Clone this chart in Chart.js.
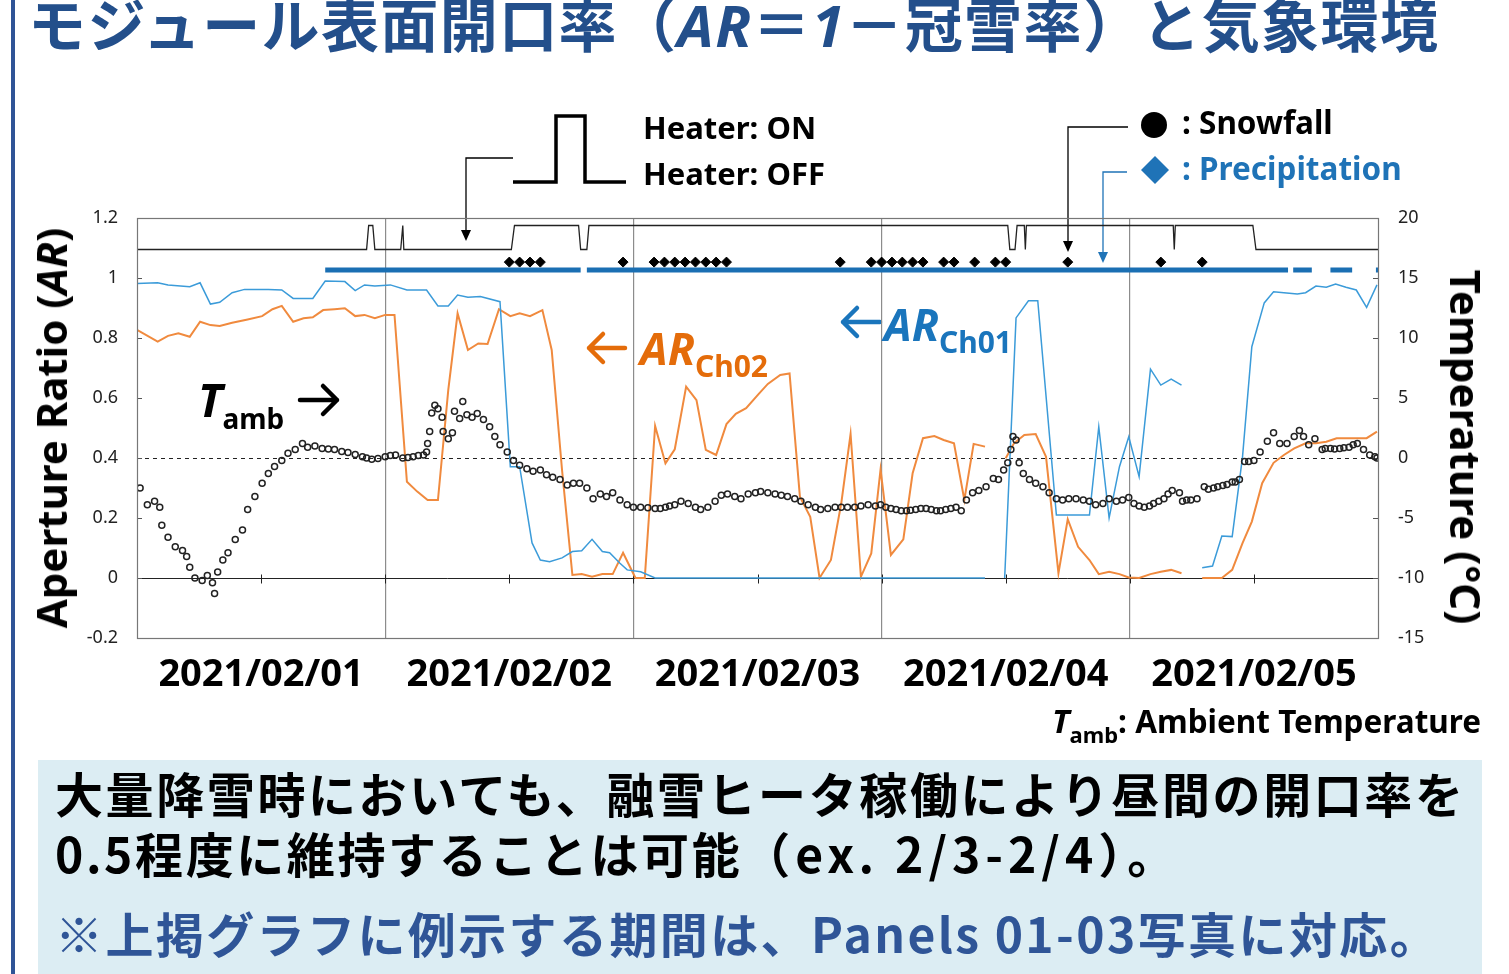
<!DOCTYPE html>
<html lang="ja">
<head>
<meta charset="utf-8">
<title>モジュール表面開口率と気象環境</title>
<script src="https://cdn.jsdelivr.net/npm/chart.js@4.4.1/dist/chart.umd.min.js"></script>
<style>
html,body{margin:0;padding:0;background:#fff;}
body{width:1509px;height:974px;overflow:hidden;position:relative;font-family:"Noto Sans","Noto Sans CJK JP",sans-serif;}
#wrap{position:absolute;left:0;top:0;width:1509px;height:974px;}
#deco{position:absolute;left:0;top:0;pointer-events:none;}
.t{position:absolute;white-space:nowrap;font-weight:700;line-height:1;}
.jp{font-family:"Noto Sans CJK JP",sans-serif;}
</style>
</head>
<body>
<svg id="deco" width="1509" height="974">
  <rect x="38" y="760" width="1444" height="214" fill="#dcedf3"/>
  <rect x="11" y="0" width="4" height="974" fill="#2f5496"/>
  <!-- heater pulse key -->
  <polyline points="513,182 556,182 556,116 585,116 585,182 626,182" fill="none" stroke="#000" stroke-width="3.5"/>
  <polyline points="513,158 466,158 466,232" fill="none" stroke="#000" stroke-width="1.3"/>
  <polygon points="461,230 471,230 466,241" fill="#000"/>
  <!-- snowfall key -->
  <circle cx="1154" cy="125" r="13" fill="#000"/>
  <polyline points="1128,127 1068,127 1068,244" fill="none" stroke="#000" stroke-width="1.3"/>
  <polygon points="1063,241 1073,241 1068,252" fill="#000"/>
  <!-- precipitation key -->
  <polygon points="1155,156 1169,170 1155,184 1141,170" fill="#1f73b7"/>
  <polyline points="1127,172 1103,172 1103,254" fill="none" stroke="#1f73b7" stroke-width="1.3"/>
  <polygon points="1098,252 1108,252 1103,263" fill="#1f73b7"/>
  <!-- label arrows -->
  <g fill="none" stroke-width="4.5" stroke-linecap="round" stroke-linejoin="round">
    <path d="M300 400 H337 M323 386 L337 400 L323 414" stroke="#000"/>
    <path d="M589 348 H625 M603 334 L589 348 L603 362" stroke="#e46c0a"/>
    <path d="M843 322 H880 M857 308 L843 322 L857 336" stroke="#1a75bc"/>
  </g>
</svg>
<div id="wrap"><canvas id="chart"></canvas></div>

<div class="t jp" style="left:28px;top:-7px;font-size:58px;letter-spacing:1.4px;color:#234f8b;">モジュール表面開口率（<i style="font-family:'Noto Sans'">AR</i>＝<i style="font-family:'Noto Sans'">1</i>－冠雪率）と気象環境</div>

<div class="t" style="left:643px;top:112px;font-size:31px;">Heater: ON</div>
<div class="t" style="left:643px;top:158px;font-size:31px;">Heater: OFF</div>
<div class="t" style="left:1182px;top:106px;font-size:31.5px;">: Snowfall</div>
<div class="t" style="left:1182px;top:152px;font-size:31.5px;color:#1f73b7;">: Precipitation</div>

<div class="t" style="left:198px;top:376px;"><i style="font-size:46px;">T</i><span style="font-size:28px;position:relative;top:12px;">amb</span></div>
<div class="t" style="left:640px;top:326px;color:#e46c0a;"><i style="font-size:44px;">AR</i><span style="font-size:30px;position:relative;top:12px;">Ch02</span></div>
<div class="t" style="left:884px;top:302px;color:#1a75bc;"><i style="font-size:44px;">AR</i><span style="font-size:30px;position:relative;top:12px;">Ch01</span></div>

<div class="t" style="left:51px;top:428px;font-size:42px;transform:translate(-50%,-50%) rotate(-90deg);">Aperture Ratio (<i>AR</i>)</div>
<div class="t" style="left:1466px;top:447px;font-size:42px;transform:translate(-50%,-50%) rotate(90deg);">Temperature (°C)</div>

<div class="t" style="left:1052px;top:704px;"><i style="font-size:33px;">T</i><span style="font-size:22px;position:relative;top:10px;">amb</span><span style="font-size:31.5px;">: Ambient Temperature</span></div>

<div class="t jp" style="left:55px;top:768px;font-size:48px;letter-spacing:2.6px;">大量降雪時においても、融雪ヒータ稼働により昼間の開口率を</div>
<div class="t jp" style="left:55px;top:828px;font-size:48px;letter-spacing:2.6px;">0.5程度に維持することは可能<span style="letter-spacing:5px;">（ex. 2/3-2/4）</span>。</div>
<div class="t jp" style="left:55px;top:908px;font-size:48px;color:#2f5597;letter-spacing:2.4px;">※上掲グラフに例示する期間は、Panels 01-03写真に対応。</div>

<script>
// time axis: hours from 2021/02/01 00:00
const dayLabels = ['2021/02/01', '2021/02/02', '2021/02/03', '2021/02/04', '2021/02/05'];

// Aperture ratio, Ch01 (blue)
const ch01Hours = [0,2.0,3.0,5.1,6.1,7.1,8.0,9.2,10.4,12.7,14.0,15.1,17.0,18.2,20.1,21.1,22.0,23.0,24.5,26.1,
  28.0,29.1,30.1,31.0,32.0,33.2,35.1,36.1,37.0,38.2,39.0,39.9,41.1,42.1,43.0,44.0,45.0,45.7,46.7,47.4,
  48.7,50.1,82.0,83.0,83.9,85.0,86.2,87.1,88.9,92.1,93.0,94.0,95.0,95.9,96.9,98.0,99.0,100.0,101.0,102.0,
  103.0,104.0,104.9,105.9,106.9,107.8,109.0,109.9,110.9,112.2,113.0,114.0,115.0,115.9,116.9,117.9,118.9,119.9];
const ch01Values = [0.982,0.984,0.977,0.971,0.984,0.913,0.919,0.951,0.962,0.962,0.960,0.932,0.932,0.990,0.988,0.958,0.977,0.973,0.977,0.960,
  0.960,0.907,0.907,0.943,0.936,0.938,0.921,0.371,0.371,0.117,0.060,0.054,0.067,0.088,0.091,0.129,0.088,0.084,0.049,0.027,
  0.021,0,0,null,0,0.867,0.924,0.924,0.210,0.210,0.504,0.200,0.371,0.471,0.338,0.696,0.643,0.663,0.643,null,
  0.034,0.040,0.140,0.138,0.404,0.771,0.917,0.954,0.951,0.947,0.951,0.973,0.969,0.980,0.969,0.960,0.902,0.977];

// Aperture ratio, Ch02 (orange)
const ch02Hours = [0,2.0,3.0,4.0,5.1,6.1,7.1,8.0,9.2,10.7,12.1,13.1,14.0,15.1,16.1,17.0,18.0,19.1,20.1,21.1,
  22.0,23.0,24.0,24.9,26.1,27.1,28.1,29.1,30.1,31.0,32.0,33.0,33.9,35.0,36.1,37.0,38.0,39.2,40.1,41.1,
  42.1,43.0,44.0,45.0,46.0,47.0,48.2,49.1,50.1,51.1,52.0,53.1,54.1,55.0,56.0,57.0,57.9,58.9,60.1,61.0,
  62.2,63.1,64.1,65.1,66.0,67.1,68.1,69.0,70.0,71.0,71.9,72.9,74.1,75.0,76.0,77.1,78.0,79.0,80.0,80.9,
  82.0,83.0,84.0,84.8,85.8,86.9,87.9,89.1,90.0,91.0,92.1,93.0,94.0,95.0,95.9,96.9,98.0,99.0,100.0,101.0,
  102.0,103.0,104.9,105.9,106.9,107.8,108.8,109.9,110.9,111.9,113.0,114.0,115.0,116.0,117.0,118.0,118.9,119.9];
const ch02Values = [0.827,0.788,0.807,0.816,0.804,0.854,0.843,0.840,0.851,0.862,0.873,0.896,0.907,0.854,0.866,0.869,0.893,0.896,0.899,0.873,
  0.877,0.866,0.877,0.877,0.321,0.288,0.260,0.260,0.627,0.882,0.760,0.782,0.780,0.896,0.873,0.882,0.873,0.893,0.760,0.360,
  0.010,0.013,0.004,0.013,0.013,0.084,0,0,0.507,0.382,0.429,0.638,0.593,0.427,0.410,0.513,0.547,0.566,0.613,0.647,
  0.677,0.682,0.271,0.204,0,0.060,0.249,0.480,0.004,0.082,0.362,0.077,0.129,0.349,0.466,0.473,0.460,0.449,0.260,0.447,
  0.438,null,0.399,0.449,0.477,0.480,0.404,0.016,0.196,0.104,0.060,0.013,0.021,0.013,0.002,0,0.013,0.021,0.027,0.016,
  null,0,0,0.027,0.116,0.188,0.316,0.384,0.410,0.432,0.449,0.449,0.454,0.466,0.466,0.466,0.466,0.488];

// ambient temperature (degC, right axis)
const tempHours = [0.3,1.0,1.7,2.2,2.4,3.0,3.7,4.4,4.8,5.1,5.6,6.3,6.8,7.3,7.5,7.8,8.3,8.8,9.5,10.2,
  10.7,11.4,12.1,12.7,13.3,14.0,14.6,15.3,16.0,16.5,17.2,17.9,18.5,19.1,19.8,20.4,21.1,21.8,22.2,22.7,
  23.3,24.0,24.5,25.0,25.7,26.2,26.7,27.2,27.7,28.0,28.1,28.3,28.5,28.8,29.1,29.5,29.6,30.1,30.5,30.7,
  31.2,31.5,31.9,32.4,32.9,33.5,34.1,34.6,35.1,35.8,36.4,37.0,37.7,38.3,39.0,39.6,40.2,40.9,41.6,42.2,
  42.8,43.5,44.1,44.8,45.4,46.0,46.7,47.4,48.0,48.7,49.4,50.1,50.6,51.1,51.5,52.0,52.6,53.3,54.0,54.5,
  55.2,55.9,56.5,57.1,57.8,58.4,59.1,59.8,60.3,61.0,61.7,62.3,62.9,63.6,64.2,64.9,65.6,66.1,66.8,67.5,
  68.1,68.7,69.4,70.0,70.7,71.4,71.9,72.4,72.9,73.4,73.9,74.4,74.8,75.3,75.8,76.3,76.8,77.3,77.7,78.2,
  78.7,79.2,79.7,80.2,80.8,81.4,82.1,82.8,83.3,83.8,84.2,84.5,84.7,85.0,85.3,85.7,86.3,86.9,87.6,88.2,
  88.9,89.5,90.1,90.8,91.5,92.1,92.7,93.4,94.0,94.7,95.3,95.9,96.4,96.9,97.4,97.9,98.3,98.8,99.3,99.7,
  100.1,100.8,101.1,101.5,101.9,102.5,103.2,103.6,104.1,104.5,105.0,105.4,105.9,106.2,106.6,107.1,107.5,108.0,108.6,109.3,
  109.9,110.5,111.2,111.9,112.4,112.8,113.3,113.9,114.6,114.9,115.4,115.8,116.3,116.7,117.2,117.6,118.0,118.6,119.2,119.7,119.9];
const tempValues = [-2.5,-3.9,-3.6,-4.1,-5.6,-6.6,-7.4,-7.7,-8.2,-9.1,-10.0,-10.2,-9.8,-10.4,-11.3,-9.5,-8.5,-7.9,-6.8,-6.0,
  -4.3,-3.2,-2.1,-1.3,-0.7,-0.2,0.4,0.7,1.2,0.9,1.0,0.8,0.75,0.7,0.55,0.45,0.3,0.1,0.0,-0.1,
  -0.05,0.1,0.2,0.25,0.0,0.05,0.1,0.2,0.25,0.5,1.2,2.2,3.75,4.4,4.1,3.4,2.2,1.6,2.1,3.9,
  3.3,4.7,3.6,3.4,3.7,3.2,2.6,1.8,1.1,0.5,-0.2,-0.6,-0.9,-1.1,-1.0,-1.4,-1.6,-1.8,-2.25,-2.1,
  -2.1,-2.5,-3.4,-3.0,-3.2,-2.9,-3.5,-3.9,-4.1,-4.1,-4.15,-4.2,-4.2,-4.1,-4.0,-3.9,-3.6,-3.8,-4.1,-4.3,
  -4.1,-3.6,-3.1,-3.0,-3.2,-3.4,-3.0,-2.9,-2.8,-2.9,-3.0,-3.1,-3.2,-3.4,-3.6,-3.9,-4.1,-4.3,-4.2,-4.1,
  -4.1,-4.1,-4.1,-4.0,-3.9,-4.0,-3.9,-4.1,-4.2,-4.3,-4.4,-4.4,-4.35,-4.3,-4.2,-4.2,-4.3,-4.4,-4.4,-4.3,
  -4.2,-4.1,-4.4,-3.5,-2.9,-2.7,-2.4,-1.7,-1.8,-1.0,-0.4,0.7,1.8,1.5,-0.4,-1.3,-1.8,-2.1,-2.4,-2.9,
  -3.4,-3.5,-3.4,-3.4,-3.5,-3.6,-3.9,-3.8,-3.4,-3.6,-3.5,-3.3,-3.8,-4.0,-4.1,-4.0,-3.8,-3.6,-3.4,-3.0,
  -2.7,-2.9,-3.6,-3.5,-3.5,-3.4,-2.4,-2.6,-2.5,-2.4,-2.3,-2.2,-2.0,-2.0,-1.8,-0.3,-0.3,-0.2,0.5,1.4,
  2.1,1.2,1.2,1.8,2.3,1.8,1.1,1.6,0.7,0.8,0.8,0.75,0.8,0.85,0.9,1.1,1.2,0.7,0.25,0.1,0.0];

// heater on/off switching times
const heaterHours = [0,22.2,22.4,22.8,23.0,25.5,25.7,25.8,36.2,36.5,42.7,42.9,43.5,43.7,84.2,84.4,84.9,85.1,85.8,85.9,86.0,100.2,100.3,100.4,107.9,108.2,120];
const heaterState = [0,0,1,1,0,0,1,0,0,1,1,0,0,1,1,0,0,1,1,0,1,1,0,1,1,0,0];

// hours with snowfall recorded
const snowHours = [36,37,38,39,47,50,51,52,53,54,55,56,57,68,71,72,73,74,75,76,78,79,81,83,84,90,99,103];

// precipitation periods (start / end hour)
const precipStart = [18.2, 43.5, 111.8, 115.4, 119.8];
const precipEnd = [42.9, 111.3, 113.6, 117.5, 120];

// drawing levels of the status rows on the AR axis
const heaterOn = 1.175, heaterOff = 1.095, snowRow = 1.053, precipRow = 1.027;

function pts(hours, vals) {
  return hours.map((h, i) => ({x: h, y: vals[i]}));
}

const precipData = [];
precipStart.forEach((s, i) => {
  precipData.push({x: s, y: precipRow}, {x: precipEnd[i], y: precipRow}, {x: precipEnd[i], y: null});
});

const frame = {
  id: 'frame',
  beforeDatasetsDraw(chart) {
    const {ctx, chartArea: a, scales} = chart;
    const y = scales.y, y1 = scales.y1, x = scales.x;
    ctx.save();
    ctx.strokeStyle = '#222';
    ctx.lineWidth = 1;
    // T = 0 reference, dashed
    const yd = Math.round(y1.getPixelForValue(0)) + 0.5;
    ctx.setLineDash([4, 4]);
    ctx.beginPath(); ctx.moveTo(a.left, yd); ctx.lineTo(a.right, yd); ctx.stroke();
    ctx.setLineDash([]);
    // AR = 0 axis line with 12 h ticks
    const y0 = Math.round(y.getPixelForValue(0)) + 0.5;
    ctx.beginPath(); ctx.moveTo(a.left, y0); ctx.lineTo(a.right, y0); ctx.stroke();
    for (let h = 12; h < 120; h += 12) {
      const px = Math.round(x.getPixelForValue(h)) + 0.5;
      ctx.beginPath(); ctx.moveTo(px, y0 - 4); ctx.lineTo(px, y0 + 5); ctx.stroke();
    }
    // small inner ticks on both value axes
    ctx.strokeStyle = '#555';
    y.ticks.forEach(t => {
      const py = Math.round(y.getPixelForValue(t.value)) + 0.5;
      ctx.beginPath(); ctx.moveTo(a.left, py); ctx.lineTo(a.left + 5, py); ctx.stroke();
    });
    y1.ticks.forEach(t => {
      const py = Math.round(y1.getPixelForValue(t.value)) + 0.5;
      ctx.beginPath(); ctx.moveTo(a.right - 5, py); ctx.lineTo(a.right, py); ctx.stroke();
    });
    ctx.restore();
  },
  afterDraw(chart) {
    const {ctx, chartArea: a} = chart;
    ctx.save();
    ctx.strokeStyle = '#777';
    ctx.lineWidth = 1.2;
    ctx.strokeRect(Math.round(a.left) + 0.5, Math.round(a.top) + 0.5, Math.round(a.right - a.left), Math.round(a.bottom - a.top));
    ctx.restore();
  }
};

new Chart(document.getElementById('chart'), {
  type: 'line',
  data: {
    datasets: [
      {
        label: 'Tamb', data: pts(tempHours, tempValues), yAxisID: 'y1', showLine: false,
        pointRadius: 3, pointBorderWidth: 1.5, pointBorderColor: '#222', pointBackgroundColor: 'rgba(255,255,255,0)', order: 1
      },
      {
        label: 'AR Ch02', data: pts(ch02Hours, ch02Values), yAxisID: 'y',
        borderColor: '#f08a3e', borderWidth: 2, pointRadius: 0, spanGaps: false, tension: 0, order: 3
      },
      {
        label: 'AR Ch01', data: pts(ch01Hours, ch01Values), yAxisID: 'y',
        borderColor: '#3b9bd9', borderWidth: 1.5, pointRadius: 0, spanGaps: false, tension: 0, order: 2
      },
      {
        label: 'Heater', data: heaterHours.map((h, i) => ({x: h, y: heaterState[i] ? heaterOn : heaterOff})), yAxisID: 'y',
        borderColor: '#222', borderWidth: 1.3, pointRadius: 0, tension: 0, order: 4
      },
      {
        label: 'Precipitation', data: precipData, yAxisID: 'y',
        borderColor: '#1a6fb3', borderWidth: 5, pointRadius: 0, spanGaps: false, order: 5
      },
      {
        label: 'Snowfall', data: snowHours.map(h => ({x: h, y: snowRow})), yAxisID: 'y', showLine: false,
        pointStyle: 'rectRot', pointRadius: 5, pointBackgroundColor: '#000', pointBorderColor: '#000', order: 0
      }
    ]
  },
  options: {
    responsive: true,
    maintainAspectRatio: false,
    animation: false,
    layout: {padding: {top: 218, left: 0, right: 0, bottom: 0}},
    plugins: {legend: {display: false}, tooltip: {enabled: false}},
    scales: {
      x: {
        type: 'linear', min: 0, max: 120,
        afterFit(s) { s.height = 336; },
        border: {display: false},
        grid: {
          drawTicks: false,
          color: c => (c.tick && c.tick.value % 24 === 0 && c.tick.value > 0 && c.tick.value < 120) ? '#8c8c8c' : 'rgba(0,0,0,0)',
          lineWidth: 1.2
        },
        ticks: {
          stepSize: 12, autoSkip: false, maxRotation: 0, padding: 14,
          color: '#000', font: {family: 'Noto Sans', size: 38, weight: 'bold'},
          callback: v => (v % 24 === 12 ? dayLabels[(v - 12) / 24] : '')
        }
      },
      y: {
        position: 'left', min: -0.2, max: 1.2,
        afterFit(s) { s.width = 137; },
        border: {display: false},
        grid: {display: false, drawTicks: false},
        ticks: {
          stepSize: 0.2, padding: 19, color: '#222', font: {family: 'Noto Sans', size: 18},
          callback: v => String(Math.round(v * 10) / 10)
        }
      },
      y1: {
        position: 'right', min: -15, max: 20,
        afterFit(s) { s.width = 131; },
        border: {display: false},
        grid: {display: false, drawTicks: false},
        ticks: {stepSize: 5, padding: 20, color: '#222', font: {family: 'Noto Sans', size: 18}}
      }
    }
  },
  plugins: [frame]
});
</script>
</body>
</html>
